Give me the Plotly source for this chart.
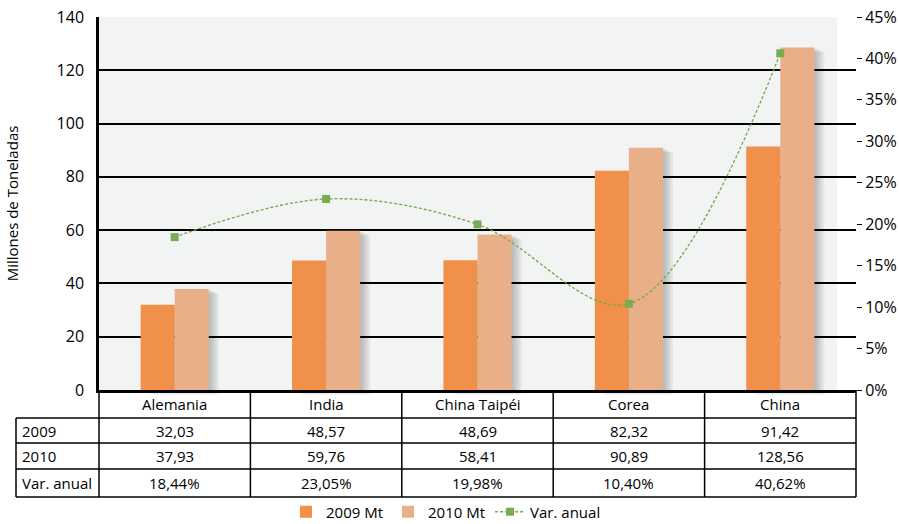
import plotly.graph_objects as go

# Producción de acero (millones de toneladas) y variación anual
categorias = ["Alemania", "India", "China Taipéi", "Corea", "China"]
mt_2009 = [32.03, 48.57, 48.69, 82.32, 91.42]
mt_2010 = [37.93, 59.76, 58.41, 90.89, 128.56]
var_anual = [18.44, 23.05, 19.98, 10.40, 40.62]

filas = ["2009", "2010", "Var. anual"]
y_izq_ticks = [0, 20, 40, 60, 80, 100, 120, 140]
y_der_ticks = [0, 5, 10, 15, 20, 25, 30, 35, 40, 45]

FONT = "Open Sans"
W, H = 899, 524
L, R, T, B = 99, 43, 17, 134
PW, PH = W - L - R, H - T - B
Y_MAX_IZQ = 140
Y_MAX_DER = 45


def px_x(px):
    return (px - L) / PW


def px_y(py):
    return (H - B - py) / PH


def fmt(v):
    return f"{v:.2f}".replace(".", ",")


fig = go.Figure()

fig.add_trace(go.Bar(
    x=categorias, y=mt_2009, name="2009 Mt",
    marker=dict(color="#F0904A", line=dict(width=0)),
))
fig.add_trace(go.Bar(
    x=categorias, y=mt_2010, name="2010 Mt",
    marker=dict(color="#E9AF88", line=dict(width=0)),
))
fig.add_trace(go.Scatter(
    x=categorias, y=var_anual, name="Var. anual", yaxis="y2",
    mode="lines+markers",
    line=dict(color="#74A84C", width=1.3, dash="3px,2px", shape="spline", smoothing=1.0),
    marker=dict(symbol="square", size=8, color="#78AC52"),
))

shapes = []

# fondo gris del área de trazado
shapes.append(dict(type="rect", xref="paper", yref="paper", x0=0, x1=px_x(837), y0=0, y1=1,
                   fillcolor="#F2F3F3", line=dict(width=0), layer="below"))

# sombras difusas detrás de cada barra
n = len(categorias)
grupo = 0.45
ancho_barra = grupo / 2
for i, (a, b) in enumerate(zip(mt_2009, mt_2010)):
    for k, v in enumerate((a, b)):
        x0 = (i + 0.5 - grupo / 2 + k * ancho_barra) / n
        x1 = x0 + ancho_barra / n
        top = v / Y_MAX_IZQ
        for d in [2, 4, 6, 8, 10]:
            dx = d / PW
            dy = (d * 0.45) / PH
            shapes.append(dict(type="rect", xref="paper", yref="paper",
                               x0=x0 + dx, x1=x1 + dx, y0=-dy, y1=top - dy,
                               fillcolor="rgba(70,70,70,0.07)", line=dict(width=0),
                               layer="below"))

# tabla de datos bajo el gráfico
row_lines = [418, 443, 469, 497]
left_x = px_x(16)
line_style = dict(color="black", width=1.5)
for py in row_lines:
    shapes.append(dict(type="line", xref="paper", yref="paper",
                       x0=left_x, x1=1, y0=px_y(py), y1=px_y(py), line=line_style))
for i in range(n + 1):
    shapes.append(dict(type="line", xref="paper", yref="paper",
                       x0=i / n, x1=i / n, y0=0, y1=px_y(row_lines[-1]), line=line_style))
shapes.append(dict(type="line", xref="paper", yref="paper",
                   x0=left_x, x1=left_x, y0=px_y(row_lines[0]), y1=px_y(row_lines[-1]),
                   line=line_style))

annotations = []
txt_font = dict(family=FONT, size=15, color="black")
header_y = px_y(404)
for i, c in enumerate(categorias):
    annotations.append(dict(x=(i + 0.5) / n, y=header_y, xref="paper", yref="paper",
                            text=c, showarrow=False, font=txt_font,
                            xanchor="center", yanchor="middle"))

row_centers = [430.5, 456, 483]
row_values = [
    [fmt(v) for v in mt_2009],
    [fmt(v) for v in mt_2010],
    [fmt(v) + "%" for v in var_anual],
]
for label, py, vals in zip(filas, row_centers, row_values):
    annotations.append(dict(x=px_x(20), y=px_y(py), xref="paper", yref="paper",
                            text=label, showarrow=False, font=txt_font,
                            xanchor="left", yanchor="middle"))
    for i, v in enumerate(vals):
        annotations.append(dict(x=(i + 0.5) / n, y=px_y(py), xref="paper", yref="paper",
                                text=v, showarrow=False, font=txt_font,
                                xanchor="center", yanchor="middle"))

fig.update_layout(
    width=W, height=H,
    margin=dict(l=L, r=R, t=T, b=B, pad=0, autoexpand=False),
    paper_bgcolor="white",
    plot_bgcolor="rgba(0,0,0,0)",
    barmode="group",
    bargap=1 - grupo,
    bargroupgap=0,
    font=dict(family=FONT, size=15, color="black"),
    shapes=shapes,
    annotations=annotations,
    xaxis=dict(
        showticklabels=False, ticks="", showgrid=False,
        showline=True, linecolor="black", linewidth=2.5,
        range=[-0.5, n - 0.5], fixedrange=True,
    ),
    yaxis=dict(
        range=[0, Y_MAX_IZQ], tickvals=y_izq_ticks,
        showgrid=True, gridcolor="black", gridwidth=2,
        showline=True, linecolor="black", linewidth=2.5,
        ticks="", ticklabelstandoff=9, zeroline=False,
        tickfont=dict(family=FONT, size=16, color="black"),
        title=dict(text="Millones de Toneladas", standoff=35,
                   font=dict(family=FONT, size=15, color="black")),
    ),
    yaxis2=dict(
        range=[0, Y_MAX_DER], tickvals=y_der_ticks,
        ticktext=[f"{v}%" for v in y_der_ticks],
        overlaying="y", side="right", showgrid=False, zeroline=False,
        showline=False, ticks="outside", ticklen=5, tickwidth=1, tickcolor="black",
        tickfont=dict(family=FONT, size=16, color="black"),
    ),
    legend=dict(
        orientation="h", x=px_x(446), xanchor="center", y=px_y(512), yanchor="middle",
        font=dict(family=FONT, size=15, color="black"),
        bgcolor="rgba(0,0,0,0)", itemwidth=30, tracegroupgap=0,
    ),
    showlegend=True,
)

fig.write_html("out.html")
